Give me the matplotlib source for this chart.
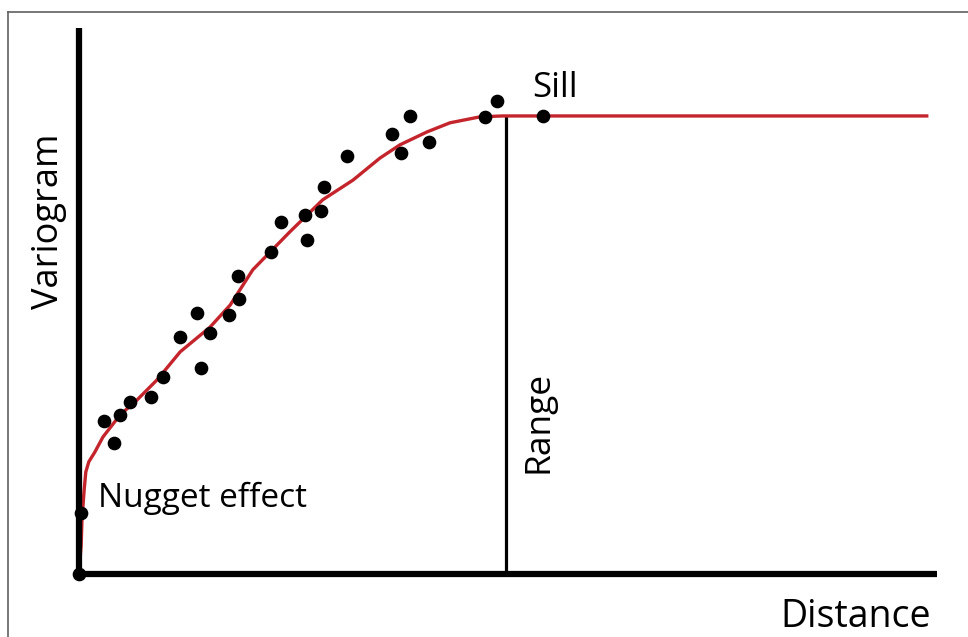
import matplotlib.pyplot as plt
from matplotlib.lines import Line2D

plt.rcParams['font.family'] = ['Open Sans', 'DejaVu Sans']

# experimental variogram (lag distance, semivariance), range = 10, sill = 1
lag = [0.0, 0.05, 0.585, 0.82, 0.96, 1.19, 1.69, 1.97, 2.37, 2.76, 2.86, 3.07,
       3.51, 3.72, 3.75, 4.50, 4.73, 5.29, 5.34, 5.67, 5.74, 6.28, 7.33, 7.54,
       7.75, 8.20, 9.51, 9.79, 10.87]
gamma = [0.0, 0.133, 0.334, 0.286, 0.347, 0.376, 0.386, 0.430, 0.517, 0.570,
         0.450, 0.526, 0.566, 0.651, 0.600, 0.703, 0.769, 0.784, 0.729, 0.793,
         0.845, 0.913, 0.961, 0.919, 1.000, 0.943, 0.998, 1.033, 1.000]

# fitted model curve
model_h = [0.0, 0.05, 0.07, 0.12, 0.16, 0.23, 0.37, 0.56, 0.96, 1.36, 1.83,
           2.37, 3.07, 3.54, 4.07, 4.52, 4.94, 5.71, 6.42, 7.05, 7.52, 8.15,
           8.69, 9.39, 9.93, 19.86]
model_g = [0.0, 0.063, 0.118, 0.183, 0.223, 0.245, 0.266, 0.299, 0.347, 0.380,
           0.424, 0.485, 0.539, 0.587, 0.664, 0.707, 0.747, 0.817, 0.860, 0.908,
           0.937, 0.965, 0.985, 0.998, 1.0, 1.0]

range_h = 10.0
sill = 1.0

W, H = 968, 637
fig = plt.figure(figsize=(W / 100, H / 100), dpi=100)
ax = fig.add_axes([79 / W, (H - 574) / H, (937 - 79) / W, (574 - 28) / H])

ax.plot(model_h, model_g, color='#c4252c', lw=2.4, zorder=2, clip_on=False)
ax.scatter(lag, gamma, s=78, color='black', zorder=3, clip_on=False)
ax.vlines(range_h, 0, sill, color='black', lw=2.3, zorder=1)

ax.set_xlim(0, 20.1)
ax.set_ylim(0, 1.192)
ax.set_xticks([])
ax.set_yticks([])
for side in ['top', 'right']:
    ax.spines[side].set_visible(False)
for side in ['left', 'bottom']:
    ax.spines[side].set_linewidth(4.5)
    ax.spines[side].set_color('black')
    ax.spines[side].set_capstyle('butt')

ax.text(10.61, 1.041, 'Sill', fontsize=25, ha='left', va='baseline')
ax.text(0.445, 0.146, 'Nugget effect', fontsize=24, ha='left', va='baseline')
ax.text(10.77, 0.332, 'Range', fontsize=25.5, rotation=90, ha='center', va='center')

fig.text(49 / W, 1 - 221 / H, 'Variogram', fontsize=26, rotation=90,
         ha='center', va='center')
fig.text(856 / W, 1 - 627 / H, 'Distance', fontsize=27, ha='center',
         va='baseline')

# thin frame along top and left edge
fig.add_artist(Line2D([8 / W, 1], [1 - 12 / H, 1 - 12 / H], color='#606060', lw=1.2))
fig.add_artist(Line2D([8 / W, 8 / W], [0, 1 - 12 / H], color='#606060', lw=1.2))

fig.savefig('out.png', dpi=100)
